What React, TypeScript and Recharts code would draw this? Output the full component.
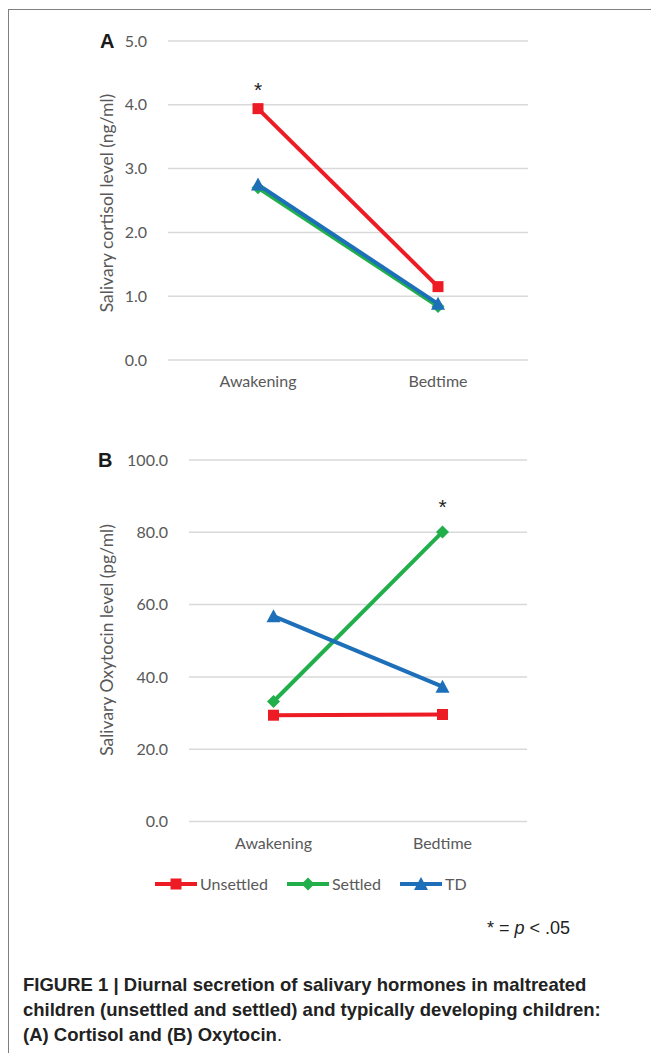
import { LineChart, Line, XAxis, YAxis, CartesianGrid, LabelList } from "recharts";

const categories = ["Awakening", "Bedtime"];

// Panel A: cortisol (ng/ml)
const cortisolUnsettled = [3.94, 1.15];
const cortisolSettled = [2.7, 0.84];
const cortisolTD = [2.75, 0.88];
const cortisolStarred = [true, false]; // marks on Unsettled
const cortisolTicks = [0, 1, 2, 3, 4, 5];

// Panel B: oxytocin (pg/ml)
const oxytocinUnsettled = [29.4, 29.6];
const oxytocinSettled = [33.2, 80.1];
const oxytocinTD = [56.8, 37.3];
const oxytocinStarred = [false, true]; // marks on Settled
const oxytocinTicks = [0, 20, 40, 60, 80, 100];

const seriesKeys = ["unsettled", "settled", "td"];
const seriesNames = ["Unsettled", "Settled", "TD"];
const seriesColors = ["#ED1C24", "#21AF4B", "#1C6FB8"];
const seriesMarkers = ["square", "diamond", "triangle"];

const GRAY = "#595959";
const FONT = "Lato, 'Open Sans', sans-serif";

function buildRows(u: number[], s: number[], t: number[], starred: boolean[]) {
  return categories.map((name, i) => ({
    name,
    unsettled: u[i],
    settled: s[i],
    td: t[i],
    star: starred[i] ? "*" : "",
  }));
}

const cortisolRows = buildRows(cortisolUnsettled, cortisolSettled, cortisolTD, cortisolStarred);
const oxytocinRows = buildRows(oxytocinUnsettled, oxytocinSettled, oxytocinTD, oxytocinStarred);

function Marker({ kind, cx, cy, color }: { kind: string; cx: number; cy: number; color: string }) {
  if (kind === "square") {
    return <rect x={cx - 5.5} y={cy - 5.5} width={11} height={11} fill={color} />;
  }
  if (kind === "diamond") {
    const r = 6.5;
    return <polygon points={`${cx},${cy - r} ${cx + r},${cy} ${cx},${cy + r} ${cx - r},${cy}`} fill={color} />;
  }
  return (
    <polygon
      points={`${cx},${cy - 7} ${cx + 7},${cy + 6} ${cx - 7},${cy + 6}`}
      fill={color}
    />
  );
}

function Panel({
  rows,
  ticks,
  starKey,
  starLift,
  margin,
  padX,
  height,
}: {
  rows: any[];
  ticks: number[];
  starKey: string;
  starLift: number;
  margin: { top: number; right: number; bottom: number; left: number };
  padX: number;
  height: number;
}) {
  return (
    <LineChart width={560} height={height} data={rows} margin={margin}>
      <CartesianGrid vertical={false} stroke="#D9D9D9" strokeWidth={1.5} />
      <XAxis
        dataKey="name"
        axisLine={false}
        tickLine={false}
        tickMargin={10}
        padding={{ left: padX, right: padX }}
        tick={{ fill: GRAY, fontSize: 16, fontFamily: FONT }}
      />
      <YAxis
        width={50}
        domain={[ticks[0], ticks[ticks.length - 1]]}
        ticks={ticks}
        axisLine={false}
        tickLine={false}
        tickMargin={15}
        tickFormatter={(v: number) => v.toFixed(1)}
        tick={{ fill: GRAY, fontSize: 16, fontFamily: FONT }}
      />
      {seriesKeys.map((key, si) => (
        <Line
          key={key}
          dataKey={key}
          stroke={seriesColors[si]}
          strokeWidth={4}
          isAnimationActive={false}
          dot={(p: any) => (
            <Marker key={`${key}-${p.index}`} kind={seriesMarkers[si]} cx={p.cx} cy={p.cy} color={seriesColors[si]} />
          )}
          activeDot={false}
        >
          {key === starKey && (
            <LabelList
              dataKey="star"
              content={(p: any) =>
                p.value ? (
                  <text
                    x={p.x}
                    y={p.y - starLift}
                    textAnchor="middle"
                    fontSize={21}
                    fontFamily="'Liberation Sans', Arial, sans-serif"
                    fill="#222"
                  >
                    {p.value}
                  </text>
                ) : null
              }
            />
          )}
        </Line>
      ))}
    </LineChart>
  );
}

function Legend() {
  return (
    <div style={{ display: "flex", alignItems: "center" }}>
      {seriesNames.map((name, i) => (
        <div key={name} style={{ display: "flex", alignItems: "center", marginRight: 19 }}>
          <svg width={42} height={16}>
            <line x1={0} y1={8} x2={42} y2={8} stroke={seriesColors[i]} strokeWidth={4} />
            <Marker kind={seriesMarkers[i]} cx={21} cy={8} color={seriesColors[i]} />
          </svg>
          <span style={{ marginLeft: 3, fontFamily: FONT, fontSize: 16, color: GRAY, lineHeight: "16px" }}>
            {name}
          </span>
        </div>
      ))}
    </div>
  );
}

const abs = (left: number, top: number, extra: any = {}) => ({ position: "absolute" as const, left, top, ...extra });

export default function App() {
  return (
    <div style={{ position: "absolute", left: 0, top: 0, width: 651, height: 1053, overflow: "hidden", background: "#fff" }}>
      <div style={abs(8, 9, { width: 643, height: 1044, borderLeft: "1.5px solid #7f7f7f", borderTop: "1.5px solid #7f7f7f" })} />

      <div style={abs(0, 0)}>
        <Panel
          rows={cortisolRows}
          ticks={cortisolTicks}
          starKey="unsettled"
          starLift={12}
          height={420}
          padX={90}
          margin={{ top: 41, right: 32, bottom: 30, left: 118 }}
        />
      </div>
      <div style={abs(0, 420)}>
        <Panel
          rows={oxytocinRows}
          ticks={oxytocinTicks}
          starKey="settled"
          starLift={18}
          height={440}
          padX={84.5}
          margin={{ top: 40, right: 33, bottom: 8.5, left: 139 }}
        />
      </div>

      <div style={abs(100, 41, { transform: "translateY(-50%)", font: "bold 20px 'Liberation Sans', Arial, sans-serif", color: "#1a1a1a", lineHeight: 1 })}>A</div>
      <div style={abs(98, 460, { transform: "translateY(-50%)", font: "bold 20px 'Liberation Sans', Arial, sans-serif", color: "#1a1a1a", lineHeight: 1 })}>B</div>

      <div style={abs(107, 203, { transform: "translate(-50%, -50%) rotate(-90deg)", whiteSpace: "nowrap", fontFamily: FONT, fontSize: 17.5, color: GRAY, lineHeight: 1 })}>
        Salivary cortisol level (ng/ml)
      </div>
      <div style={abs(107, 640, { transform: "translate(-50%, -50%) rotate(-90deg)", whiteSpace: "nowrap", fontFamily: FONT, fontSize: 17.5, color: GRAY, lineHeight: 1 })}>
        Salivary Oxytocin level (pg/ml)
      </div>

      <div style={abs(155, 876)}>
        <Legend />
      </div>

      <div style={abs(487, 928, { transform: "translateY(-50%)", whiteSpace: "nowrap", fontFamily: "'Liberation Sans Narrow', 'Liberation Sans', Arial, sans-serif", fontSize: 18, color: "#222", lineHeight: 1 })}>
        * = <i>p</i> &lt; .05
      </div>

      <div style={abs(23, 972, { whiteSpace: "nowrap", fontFamily: "'Liberation Sans', Arial, sans-serif", fontSize: 18.5, fontWeight: "bold", color: "#222", lineHeight: "25px" })}>
        FIGURE 1 | Diurnal secretion of salivary hormones in maltreated
        <br />
        children (unsettled and settled) and typically developing children:
        <br />
        (A) Cortisol and (B) Oxytocin<span style={{ fontWeight: "normal" }}>.</span>
      </div>
    </div>
  );
}
